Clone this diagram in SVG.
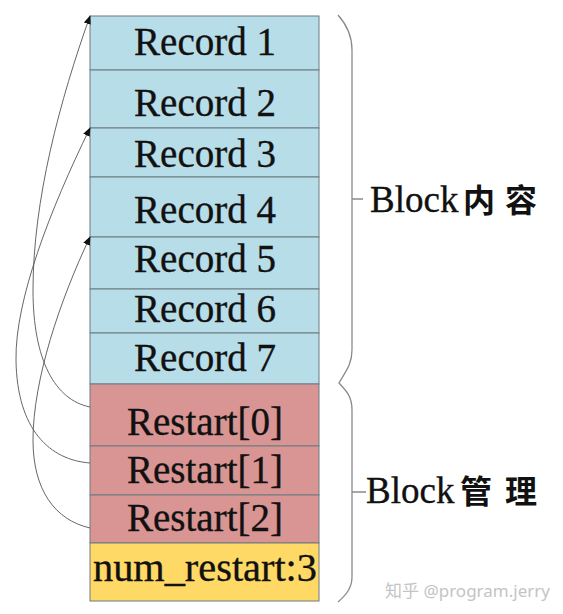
<svg xmlns="http://www.w3.org/2000/svg" width="563" height="614" viewBox="0 0 563 614">
<style>
  .cell { stroke: #6d7a82; stroke-width: 1; }
  .rec { fill: #b7dde8; }
  .rst { fill: #d99594; }
  .num { fill: #ffd966; }
  .lbl { font-family: "Liberation Serif", "Times New Roman", serif; font-size: 39px; fill: #111; stroke: #111; stroke-width: 0.35; text-anchor: middle; }
  .conn { fill: none; stroke: #555; stroke-width: 0.9; }
  .brace { fill: none; stroke: #8a8a8a; stroke-width: 1.3; }
  .grp { font-family: "Liberation Serif", "Noto Sans CJK SC", serif; font-size: 37px; fill: #111; stroke: #111; stroke-width: 0.35; }
  .cjk { font-family: "Noto Sans CJK SC", sans-serif; font-weight: bold; font-size: 32px; stroke-width: 0; }
  .wm { font-family: "Noto Sans", "Noto Sans CJK SC", sans-serif; font-size: 17px; fill: #c4c4c4; }
</style>
<defs>
  <marker id="ah" viewBox="0 0 10 10" refX="9" refY="5" markerWidth="9" markerHeight="9" markerUnits="userSpaceOnUse" orient="auto">
    <path d="M0,1 L10,5 L0,9 Z" fill="#111"/>
  </marker>
</defs>
<rect width="563" height="614" fill="#ffffff"/>

<g id="record1"><rect class="cell rec" x="90" y="16" width="229" height="54"/><text class="lbl" x="205" y="55">Record 1</text></g>
<g id="record2"><rect class="cell rec" x="90" y="70" width="229" height="58"/><text class="lbl" x="205" y="116">Record 2</text></g>
<g id="record3"><rect class="cell rec" x="90" y="128" width="229" height="49"/><text class="lbl" x="205" y="167">Record 3</text></g>
<g id="record4"><rect class="cell rec" x="90" y="177" width="229" height="60"/><text class="lbl" x="205" y="223">Record 4</text></g>
<g id="record5"><rect class="cell rec" x="90" y="237" width="229" height="52"/><text class="lbl" x="205" y="272">Record 5</text></g>
<g id="record6"><rect class="cell rec" x="90" y="289" width="229" height="44"/><text class="lbl" x="205" y="322">Record 6</text></g>
<g id="record7"><rect class="cell rec" x="90" y="333" width="229" height="51"/><text class="lbl" x="205" y="371">Record 7</text></g>
<g id="restart0"><rect class="cell rst" x="90" y="384" width="229" height="62"/><text class="lbl" x="205" y="435">Restart[0]</text></g>
<g id="restart1"><rect class="cell rst" x="90" y="446" width="229" height="49"/><text class="lbl" x="205" y="483">Restart[1]</text></g>
<g id="restart2"><rect class="cell rst" x="90" y="495" width="229" height="48"/><text class="lbl" x="205" y="531">Restart[2]</text></g>
<g id="numrestart"><rect class="cell num" x="90" y="543" width="229" height="58"/><text class="lbl" x="205" y="581" textLength="224" lengthAdjust="spacingAndGlyphs">num_restart:3</text></g>

<g id="connectors">
  <path class="conn" marker-end="url(#ah)" d="M90,407 C55,400 33,360 33,290 C33,200 60,100 90,16"/>
  <path class="conn" marker-end="url(#ah)" d="M90,463 C50,460 17,430 16,360 C15,300 50,210 90,128"/>
  <path class="conn" marker-end="url(#ah)" d="M90,528 C55,520 33,490 33,440 C33,380 60,300 90,237"/>
</g>

<g id="brace">
  <path class="brace" d="M338,15 C347,25 352,35 352,50 L352,350 C352,365 345,372 339,383 C345,390 352,395 352,410 L352,577 C352,588 346,595 338,602"/>
  <path class="brace" d="M352,199 H363 M352,492 H366"/>
</g>

<g id="label-content"><text class="grp" x="370" y="212">Block<tspan class="cjk" x="463">内</tspan><tspan class="cjk" x="505">容</tspan></text></g>
<g id="label-manage"><text class="grp" x="366" y="503">Block<tspan class="cjk" x="460">管</tspan><tspan class="cjk" x="505">理</tspan></text></g>

<text class="wm" x="385" y="597" textLength="165" lengthAdjust="spacingAndGlyphs">知乎 @program.jerry</text>
</svg>
